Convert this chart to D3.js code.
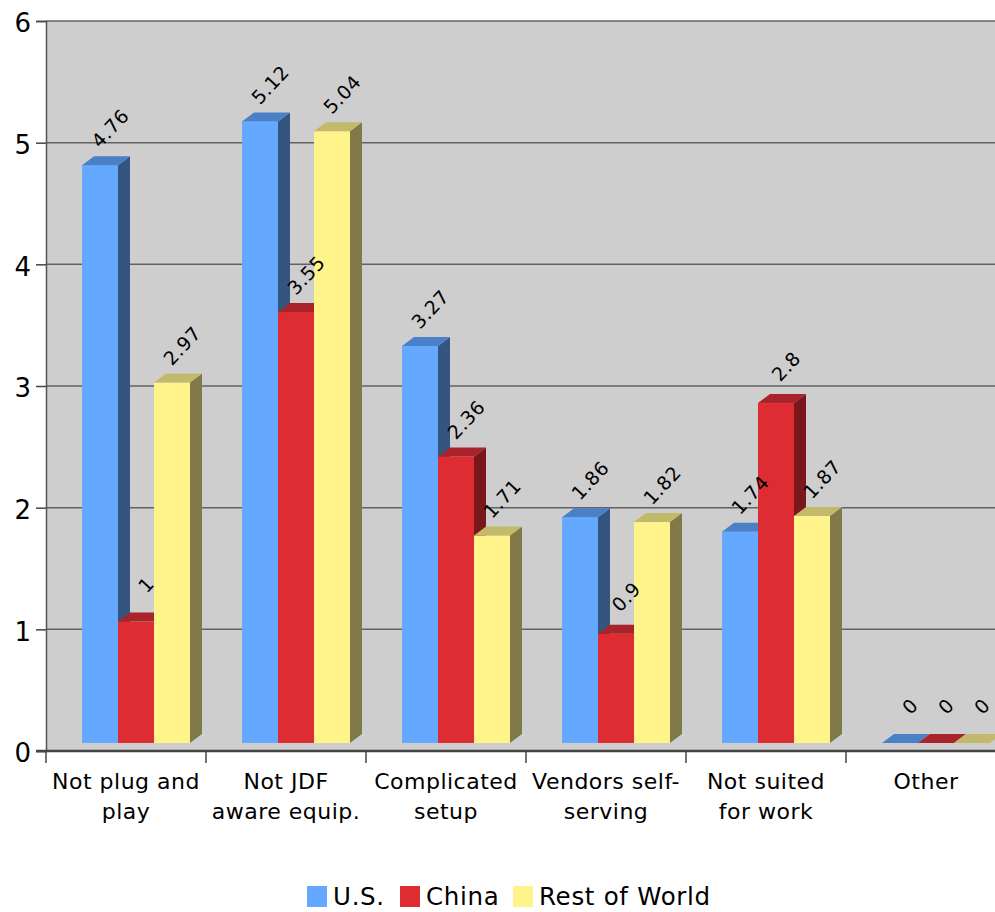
<!DOCTYPE html>
<html>
<head>
<meta charset="utf-8">
<script src="https://cdn.jsdelivr.net/npm/d3@7"></script>
<style>
  html, body { margin: 0; padding: 0; background: #fff; }
  svg { display: block; font-family: "DejaVu Sans", Verdana, sans-serif; }
</style>
</head>
<body>
<svg id="chart" width="995" height="912"></svg>
<script>
// Survey categories and the per-region scores
const categories = ["Not plug and play", "Not JDF aware equip.", "Complicated setup",
                    "Vendors self-serving", "Not suited for work", "Other"];
const categoryLines = [["Not plug and", "play"], ["Not JDF", "aware equip."], ["Complicated", "setup"],
                       ["Vendors self-", "serving"], ["Not suited", "for work"], ["Other"]];
const seriesNames = ["U.S.", "China", "Rest of World"];
const usValues    = [4.76, 5.12, 3.27, 1.86, 1.74, 0];
const chinaValues = [1, 3.55, 2.36, 0.9, 2.8, 0];
const restValues  = [2.97, 5.04, 1.71, 1.82, 1.87, 0];
const yTicks = [0, 1, 2, 3, 4, 5, 6];

// Face colours for each series: front, top, side
const palette = [
  { front: "#64a9ff", top: "#4a80c8", side: "#33557f" },
  { front: "#de2c33", top: "#a8232a", side: "#79171b" },
  { front: "#fff38c", top: "#c2b96b", side: "#807a48" }
];

const seriesValues = [usValues, chinaValues, restValues];
const svg = d3.select("#chart");

const plot = { left: 46, top: 21, right: 1006, bottom: 751 };
const depth = { dx: 12, dy: 9 };

// Back-wall scale (gridlines, axis) and front-face scale for the bars
const y = d3.scaleLinear().domain([0, 6]).range([plot.bottom, plot.top]);
const yFront = d3.scaleLinear().domain([0, 6]).range([743, 14.6]);
const x = d3.scaleBand().domain(categories).range([plot.left, plot.right]).padding(0);
const xs = d3.scaleBand().domain(seriesNames).range([36, 144]).padding(0);

// Plot background
svg.append("rect")
  .attr("x", plot.left).attr("y", plot.top)
  .attr("width", plot.right - plot.left).attr("height", plot.bottom - plot.top)
  .attr("fill", "#cecece");

// Horizontal gridlines
svg.append("g").selectAll("line")
  .data(yTicks.filter(t => t > 0))
  .join("line")
  .attr("x1", plot.left).attr("x2", plot.right)
  .attr("y1", d => y(d)).attr("y2", d => y(d))
  .attr("stroke", "#626262").attr("stroke-width", 1.5);

// Y axis
const yAxis = svg.append("g")
  .attr("transform", `translate(${plot.left},0)`)
  .call(d3.axisLeft(y).tickValues(yTicks).tickSize(10).tickPadding(5).tickFormat(d3.format("d")));
yAxis.select(".domain").attr("stroke", "#555").attr("stroke-width", 1.5);
yAxis.selectAll(".tick line").attr("stroke", "#444").attr("stroke-width", 1.5);
yAxis.selectAll(".tick text")
  .attr("font-family", "DejaVu Sans, sans-serif")
  .attr("font-size", 26).attr("fill", "#000").attr("dy", "0.42em");

// Bars, drawn series by series so later series sit in front
const barLayer = svg.append("g");
const labelLayer = svg.append("g");
seriesNames.forEach((name, si) => {
  const col = palette[si];
  const vals = seriesValues[si];
  const g = barLayer.append("g");
  categories.forEach((cat, ci) => {
    const v = vals[ci];
    const x0 = x(cat) + xs(name);
    const x1 = x0 + xs.bandwidth();
    const yb = yFront(0);
    const yt = yFront(v);
    const { dx, dy } = depth;
    // front
    if (yb - yt > 0) {
      g.append("rect").attr("x", x0).attr("y", yt)
        .attr("width", x1 - x0).attr("height", yb - yt).attr("fill", col.front);
    }
    // side
    g.append("path")
      .attr("d", `M${x1},${yt}L${x1 + dx},${yt - dy}L${x1 + dx},${yb - dy}L${x1},${yb}Z`)
      .attr("fill", col.side);
    // top
    g.append("path")
      .attr("d", `M${x0},${yt}L${x0 + dx},${yt - dy}L${x1 + dx},${yt - dy}L${x1},${yt}Z`)
      .attr("fill", col.top);
  });
  // value labels above each bar
  labelLayer.append("g").selectAll("text")
    .data(vals)
    .join("text")
    .attr("transform", (d, ci) => {
      const cx = x(categories[ci]) + xs(name) + xs.bandwidth() / 2 + depth.dx / 2 + 4;
      const cy = yFront(d) - depth.dy - 28;
      return `translate(${cx},${cy}) rotate(-47)`;
    })
    .attr("text-anchor", "middle")
    .attr("dominant-baseline", "central")
    .attr("font-size", 19)
    .attr("letter-spacing", 0.5)
    .attr("fill", "#000")
    .text(d => d3.format("~g")(d));
});

// X axis line and category dividers
svg.append("line")
  .attr("x1", plot.left - 10).attr("x2", plot.right)
  .attr("y1", plot.bottom).attr("y2", plot.bottom)
  .attr("stroke", "#444").attr("stroke-width", 2.5);
svg.append("g").selectAll("line")
  .data(categories)
  .join("line")
  .attr("x1", d => x(d)).attr("x2", d => x(d))
  .attr("y1", plot.bottom).attr("y2", plot.bottom + 12)
  .attr("stroke", "#444").attr("stroke-width", 1.5);

// Category labels
const catLabels = svg.append("g").selectAll("text")
  .data(categories)
  .join("text")
  .attr("x", d => x(d) + x.bandwidth() / 2)
  .attr("y", 789)
  .attr("text-anchor", "middle")
  .attr("font-size", 22)
  .attr("letter-spacing", 0.5)
  .attr("fill", "#000");
catLabels.each(function (d, i) {
  d3.select(this).selectAll("tspan")
    .data(categoryLines[i])
    .join("tspan")
    .attr("x", x(d) + x.bandwidth() / 2)
    .attr("dy", (t, j) => j === 0 ? 0 : 30)
    .text(t => t);
});

// Legend
const legendX = [307, 400, 513];
const legend = svg.append("g").selectAll("g")
  .data(seriesNames)
  .join("g")
  .attr("transform", (d, i) => `translate(${legendX[i]},886)`);
legend.append("rect").attr("width", 20).attr("height", 21)
  .attr("fill", (d, i) => palette[i].front);
legend.append("text").attr("x", 26).attr("y", 19)
  .attr("font-size", 24.5).attr("letter-spacing", 0.7).attr("fill", "#000")
  .text(d => d);
</script>
</body>
</html>
